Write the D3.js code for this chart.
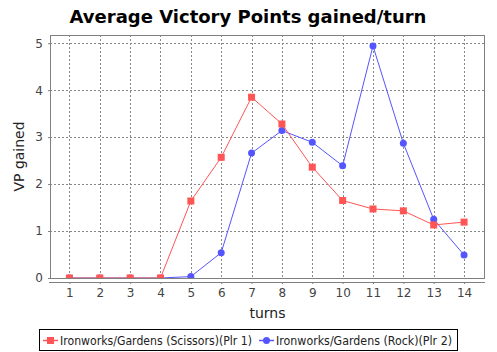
<!DOCTYPE html>
<html>
<head>
<meta charset="utf-8">
<script src="https://cdn.jsdelivr.net/npm/d3@7"></script>
<style>
  body { margin: 0; background: #fff; }
  svg { display: block; font-family: "DejaVu Sans", sans-serif; }
</style>
</head>
<body>
<svg id="chart" width="497" height="352"></svg>
<script>
const turns = [1, 2, 3, 4, 5, 6, 7, 8, 9, 10, 11, 12, 13, 14];
const scissors = [0, 0, 0, 0, 1.64, 2.57, 3.85, 3.28, 2.36, 1.65, 1.47, 1.43, 1.13, 1.19];
const rock = [0, 0, 0, 0, 0.03, 0.54, 2.66, 3.14, 2.89, 2.39, 4.94, 2.87, 1.25, 0.49];
const yTicks = [0, 1, 2, 3, 4, 5];
const seriesNames = ["Ironworks/Gardens (Scissors)(Plr 1)", "Ironworks/Gardens (Rock)(Plr 2)"];

const svg = d3.select('#chart');
const plot = { left: 50, right: 485, top: 35, bottom: 278 };

const x = d3.scaleLinear().domain([0.36, 14.69]).range([plot.left, plot.right]);
const y = d3.scaleLinear().domain([0, 5.175]).range([plot.bottom, plot.top]);

// title
svg.append('text')
    .attr('x', 248).attr('y', 23)
    .attr('text-anchor', 'middle')
    .style('font-weight', 'bold')
    .style('font-size', '18px')
    .text('Average Victory Points gained/turn');

// grid
const grid = svg.append('g').attr('stroke', '#888').attr('stroke-dasharray', '2,2').attr('stroke-width', 1);
grid.selectAll('line.v').data(turns).join('line')
    .attr('x1', d => Math.round(x(d)) + 0.5).attr('x2', d => Math.round(x(d)) + 0.5)
    .attr('y1', plot.top).attr('y2', plot.bottom);
grid.selectAll('line.h').data(yTicks).join('line')
    .attr('y1', d => Math.round(y(d)) + 0.5).attr('y2', d => Math.round(y(d)) + 0.5)
    .attr('x1', plot.left).attr('x2', plot.right);

// axes
const xAxis = d3.axisBottom(x).tickValues(turns).tickSize(2).tickSizeOuter(0).tickPadding(4);
const gx = svg.append('g').attr('transform', `translate(0,${plot.bottom + 4})`).call(xAxis);
const yAxis = d3.axisLeft(y).tickValues(yTicks).tickFormat(d3.format('d')).tickSize(2).tickSizeOuter(0).tickPadding(5);
const gy = svg.append('g').attr('transform', `translate(${plot.left},0)`).call(yAxis);
[gx, gy].forEach(g => {
    g.select('.domain').attr('stroke', '#808080');
    g.selectAll('.tick line').attr('stroke', '#808080');
    g.selectAll('.tick text').attr('fill', '#444').style('font-size', '12px').style('font-family', '"DejaVu Sans", sans-serif');
});
gx.select('.domain').attr('d', `M${plot.left - 1},0.5H${plot.right}`);

svg.append('text')
    .attr('transform', `translate(24,${(plot.top + plot.bottom) / 2}) rotate(-90)`)
    .attr('text-anchor', 'middle')
    .style('font-size', '14px')
    .attr('fill', '#222')
    .text('VP gained');
svg.append('text')
    .attr('x', (plot.left + plot.right) / 2).attr('y', 318)
    .attr('text-anchor', 'middle')
    .style('font-size', '14px')
    .attr('fill', '#222')
    .text('turns');

// lines and markers, clipped to the plot; series 1 first so series 0 sits on top
svg.append('clipPath').attr('id', 'clip').append('rect')
    .attr('x', plot.left).attr('y', plot.top)
    .attr('width', plot.right - plot.left).attr('height', plot.bottom - plot.top);
const layer = svg.append('g').attr('clip-path', 'url(#clip)');

const line = d3.line().x(d => x(d[0])).y(d => y(d[1]));
const red = '#ff5555', blue = '#5555ff';
const rockPts = turns.map((t, i) => [t, rock[i]]);
const scissorsPts = turns.map((t, i) => [t, scissors[i]]);

layer.append('path').datum(rockPts)
    .attr('d', line).attr('fill', 'none').attr('stroke', blue).attr('stroke-width', 1);
layer.selectAll('circle.pt').data(rockPts)
    .join('circle')
    .attr('cx', d => x(d[0])).attr('cy', d => y(d[1]))
    .attr('r', 3.5)
    .attr('fill', blue);

layer.append('path').datum(scissorsPts)
    .attr('d', line).attr('fill', 'none').attr('stroke', red).attr('stroke-width', 1);
layer.selectAll('rect.pt').data(scissorsPts)
    .join('rect')
    .attr('x', d => x(d[0]) - 3.5).attr('y', d => y(d[1]) - 3.5)
    .attr('width', 7).attr('height', 7)
    .attr('fill', red);

// plot outline
svg.append('rect')
    .attr('x', plot.left + 0.5).attr('y', plot.top + 0.5)
    .attr('width', plot.right - plot.left - 1).attr('height', plot.bottom - plot.top)
    .attr('fill', 'none').attr('stroke', '#808080');

// legend
const lg = svg.append('g');
lg.append('rect').attr('x', 39.5).attr('y', 329.5).attr('width', 418).attr('height', 21)
    .attr('fill', '#fff').attr('stroke', '#000');
const items = [
    { name: seriesNames[0], color: red, shape: 'square', x0: 43 },
    { name: seriesNames[1], color: blue, shape: 'circle', x0: 259 }
];
items.forEach(it => {
    lg.append('line').attr('x1', it.x0).attr('x2', it.x0 + 15)
        .attr('y1', 340.5).attr('y2', 340.5).attr('stroke', it.color).attr('stroke-width', 1.5);
    if (it.shape === 'square') {
        lg.append('rect').attr('x', it.x0 + 4).attr('y', 337).attr('width', 7).attr('height', 7).attr('fill', it.color);
    } else {
        lg.append('circle').attr('cx', it.x0 + 7.5).attr('cy', 340.5).attr('r', 3.5).attr('fill', it.color);
    }
    lg.append('text').attr('x', it.x0 + 17).attr('y', 344.5)
        .attr('textLength', it.shape === 'square' ? 192 : 176)
        .attr('lengthAdjust', 'spacingAndGlyphs')
        .style('font-size', '11.5px').attr('fill', '#222')
        .text(it.name);
});
</script>
</body>
</html>
